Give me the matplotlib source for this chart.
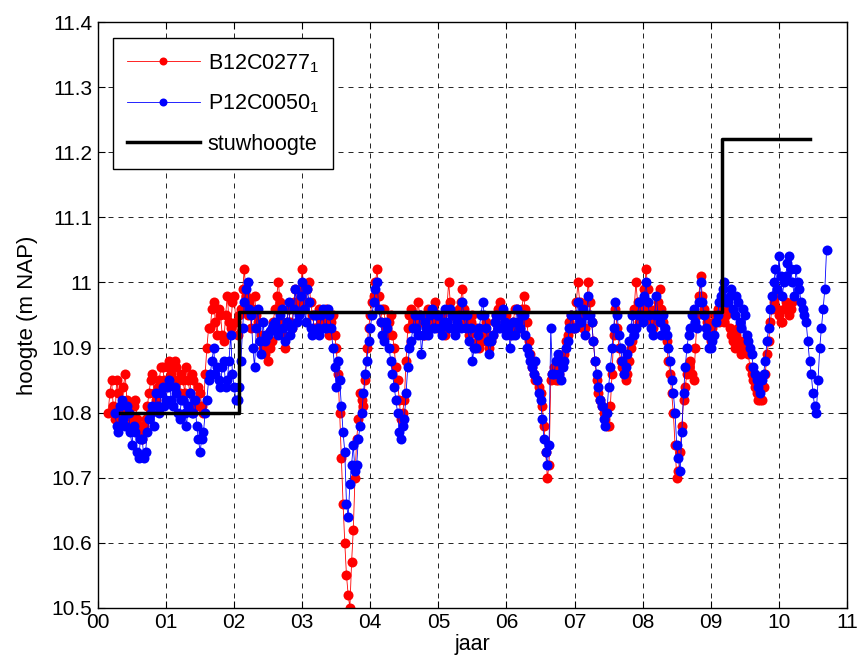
import matplotlib
matplotlib.use("Agg")
import matplotlib.pyplot as plt
import numpy as np

plt.rcParams['font.family'] = ['Liberation Sans', 'DejaVu Sans']
plt.rcParams['mathtext.fontset'] = 'custom'
plt.rcParams['mathtext.rm'] = 'Liberation Sans'
plt.rcParams['mathtext.it'] = 'Liberation Sans'

# peilbuis B12C0277 (rood): metingen op jaar 0.15 + 0.05*i (a) en 0.175 + 0.05*i (b)
red_a_start = 0.15
red_b_start = 0.175
red_a = [10.80, 10.85, 10.79, 10.83, 10.80, 10.86, 10.81, 10.79, 10.82, 10.78,
         10.76, 10.79, 10.83, 10.86, 10.82, 10.85, 10.87, 10.84, 10.88, 10.85,
         10.87, 10.83, 10.85, 10.87, 10.83, 10.85, 10.81, 10.83, 10.80, 10.90,
         10.93, 10.97, 10.92, 10.95, 10.91, 10.98, 10.93, 10.98, 10.92, 10.96,
         11.02, 10.95, 10.93, 10.98, 10.94, 10.92, 10.89, 10.88, 10.91, 10.96,
         11.00, 10.94, 10.90, 10.96, 10.93, 10.99, 10.96, 11.02, 10.97, 11.00,
         10.95, 10.93, 10.96, 10.94, 10.96, 10.92, 10.95, 10.90, 10.80, 10.66,
         10.55, 10.50, 10.62, 10.76, 10.83, 10.81, 10.90, 10.95, 10.98, 11.02,
         10.94, 10.96, 10.92, 10.95, 10.90, 10.85, 10.79, 10.82, 10.93, 10.96,
         10.93, 10.97, 10.94, 10.92, 10.96, 10.94, 10.97, 10.93, 10.95, 10.92,
         11.00, 10.95, 10.93, 10.96, 10.99, 10.94, 10.92, 10.95, 10.93, 10.90,
         10.91, 10.94, 10.90, 10.92, 10.95, 10.97, 10.93, 10.95, 10.92, 10.94,
         10.96, 10.93, 10.98, 10.94, 10.89, 10.86, 10.85, 10.83, 10.78, 10.70,
         10.85, 10.87, 10.85, 10.87, 10.89, 10.92, 10.95, 10.93, 11.00, 10.95,
         10.93, 11.00, 10.94, 10.88, 10.83, 10.81, 10.79, 10.78, 10.86, 10.96,
         10.90, 10.87, 10.85, 10.88, 10.91, 11.00, 10.94, 10.97, 11.02, 10.96,
         10.93, 10.96, 10.99, 10.94, 10.91, 10.86, 10.80, 10.70, 10.74, 10.82,
         10.86, 10.88, 10.85, 10.95, 11.01, 10.96, 10.94, 10.91, 10.94, 10.96,
         10.97, 10.94, 10.96, 10.92, 10.90, 10.93, 10.89, 10.91, 10.89, 10.86,
         10.84, 10.82, 10.82, 10.86, 10.91, 10.96, 10.98, 10.95, 10.94, 10.97,
         10.95, 10.97]
red_b = [10.83, 10.81, 10.85, 10.79, 10.84, 10.82, 10.78, 10.81, 10.79, 10.77,
         10.78, 10.81, 10.85, 10.83, 10.84, 10.87, 10.85, 10.87, 10.86, 10.88,
         10.85, 10.86, 10.83, 10.85, 10.86, 10.82, 10.84, 10.81, 10.86, 10.93,
         10.96, 10.94, 10.96, 10.92, 10.95, 10.94, 10.97, 10.94, 10.95, 10.99,
         10.98, 10.97, 10.96, 10.95, 10.91, 10.90, 10.92, 10.90, 10.94, 10.98,
         10.97, 10.92, 10.94, 10.94, 10.97, 10.97, 10.99, 10.99, 10.99, 10.97,
         10.93, 10.95, 10.94, 10.95, 10.94, 10.94, 10.92, 10.86, 10.73, 10.60,
         10.52, 10.57, 10.70, 10.79, 10.82, 10.85, 10.93, 10.97, 11.00, 10.98,
         10.96, 10.93, 10.94, 10.92, 10.87, 10.82, 10.80, 10.88, 10.95, 10.94,
         10.95, 10.95, 10.92, 10.95, 10.94, 10.96, 10.95, 10.94, 10.93, 10.96,
         10.97, 10.93, 10.95, 10.97, 10.96, 10.93, 10.94, 10.93, 10.91, 10.92,
         10.93, 10.92, 10.91, 10.94, 10.96, 10.95, 10.94, 10.93, 10.93, 10.96,
         10.94, 10.96, 10.96, 10.91, 10.87, 10.85, 10.84, 10.81, 10.74, 10.72,
         10.86, 10.85, 10.86, 10.88, 10.91, 10.94, 10.93, 10.97, 10.97, 10.93,
         10.97, 10.97, 10.91, 10.85, 10.82, 10.80, 10.78, 10.81, 10.92, 10.93,
         10.88, 10.86, 10.86, 10.90, 10.96, 10.97, 10.96, 10.99, 10.99, 10.94,
         10.95, 10.97, 10.96, 10.92, 10.88, 10.83, 10.75, 10.71, 10.78, 10.84,
         10.87, 10.86, 10.90, 10.98, 10.98, 10.95, 10.92, 10.93, 10.95, 10.94,
         10.95, 10.95, 10.93, 10.91, 10.92, 10.91, 10.90, 10.90, 10.87, 10.85,
         10.83, 10.82, 10.84, 10.89, 10.94, 10.97, 10.96, 10.94, 10.96, 10.96,
         10.96]

# peilbuis P12C0050 (blauw): metingen op jaar 0.25 + 0.05*i (a) en 0.275 + 0.05*i (b)
blue_a_start = 0.25
blue_b_start = 0.275
blue_a = [10.80, 10.77, 10.82, 10.78, 10.80, 10.75, 10.77, 10.73, 10.76, 10.74,
          10.79, 10.81, 10.83, 10.80, 10.84, 10.82, 10.85, 10.81, 10.83, 10.79,
          10.82, 10.78, 10.83, 10.80, 10.78, 10.74, 10.77, 10.82, 10.86, 10.90,
          10.87, 10.84, 10.88, 10.85, 10.92, 10.84, 10.82, 10.88, 10.97, 11.00,
          10.95, 10.87, 10.96, 10.89, 10.91, 10.92, 10.93, 10.94, 10.92, 10.96,
          10.91, 10.97, 10.93, 10.99, 10.95, 11.00, 10.94, 10.97, 10.92, 10.95,
          10.92, 10.96, 10.93, 10.95, 10.90, 10.84, 10.85, 10.77, 10.66, 10.69,
          10.75, 10.72, 10.78, 10.83, 10.88, 10.93, 10.97, 11.00, 10.94, 10.91,
          10.93, 10.88, 10.84, 10.80, 10.76, 10.79, 10.87, 10.91, 10.95, 10.92,
          10.89, 10.94, 10.92, 10.96, 10.93, 10.95, 10.92, 10.96, 10.93, 10.95,
          10.92, 10.95, 10.97, 10.93, 10.91, 10.88, 10.90, 10.93, 10.97, 10.93,
          10.89, 10.92, 10.95, 10.93, 10.96, 10.92, 10.90, 10.94, 10.96, 10.93,
          10.95, 10.90, 10.88, 10.86, 10.85, 10.82, 10.76, 10.72, 10.93, 10.86,
          10.89, 10.85, 10.88, 10.91, 10.95, 10.93, 10.97, 10.94, 10.92, 10.98,
          10.94, 10.88, 10.84, 10.81, 10.78, 10.84, 10.90, 10.97, 10.92, 10.88,
          10.87, 10.91, 10.95, 10.93, 10.97, 10.94, 11.00, 10.95, 10.92, 10.98,
          10.94, 10.95, 10.92, 10.88, 10.83, 10.75, 10.71, 10.83, 10.90, 10.93,
          10.96, 10.93, 11.00, 10.95, 10.92, 10.90, 10.92, 10.95, 10.98, 11.00,
          10.97, 10.99, 10.95, 10.97, 10.93, 10.95, 10.91, 10.89, 10.86, 10.84,
          10.85, 10.88, 10.93, 10.98, 11.02, 11.04, 10.98, 11.01, 11.04, 11.00,
          11.02, 10.99, 10.96, 10.94, 10.88, 10.83, 10.80, 10.90, 10.96, 11.05]
blue_b = [10.78, 10.81, 10.79, 10.81, 10.77, 10.78, 10.74, 10.76, 10.73, 10.77,
          10.80, 10.78, 10.81, 10.83, 10.81, 10.84, 10.82, 10.84, 10.80, 10.82,
          10.80, 10.81, 10.80, 10.82, 10.76, 10.76, 10.80, 10.85, 10.88, 10.86,
          10.85, 10.87, 10.84, 10.88, 10.86, 10.82, 10.84, 10.93, 10.99, 10.96,
          10.90, 10.93, 10.91, 10.94, 10.92, 10.925, 10.935, 10.93, 10.95, 10.93,
          10.94, 10.92, 10.96, 10.94, 10.98, 10.96, 10.99, 10.93, 10.95, 10.93,
          10.95, 10.93, 10.96, 10.93, 10.87, 10.88, 10.81, 10.74, 10.64, 10.72,
          10.71, 10.76, 10.80, 10.86, 10.91, 10.95, 10.99, 10.96, 10.92, 10.94,
          10.90, 10.86, 10.82, 10.77, 10.78, 10.83, 10.90, 10.93, 10.93, 10.95,
          10.92, 10.93, 10.95, 10.93, 10.95, 10.93, 10.94, 10.94, 10.96, 10.93,
          10.94, 10.93, 10.95, 10.95, 10.93, 10.90, 10.92, 10.95, 10.95, 10.91,
          10.91, 10.94, 10.93, 10.95, 10.94, 10.93, 10.92, 10.92, 10.94, 10.95,
          10.92, 10.89, 10.87, 10.88, 10.83, 10.79, 10.74, 10.75, 10.86, 10.88,
          10.86, 10.87, 10.90, 10.93, 10.93, 10.95, 10.94, 10.96, 10.95, 10.95,
          10.91, 10.86, 10.82, 10.79, 10.80, 10.87, 10.93, 10.95, 10.90, 10.86,
          10.89, 10.93, 10.92, 10.95, 10.95, 10.98, 10.97, 10.93, 10.95, 10.95,
          10.92, 10.93, 10.90, 10.85, 10.80, 10.73, 10.77, 10.87, 10.92, 10.95,
          10.94, 10.97, 10.97, 10.93, 10.90, 10.91, 10.94, 10.97, 10.99, 10.97,
          10.98, 10.96, 10.98, 10.94, 10.96, 10.92, 10.90, 10.87, 10.85, 10.83,
          10.86, 10.91, 10.96, 11.00, 10.99, 11.01, 11.00, 11.03, 11.02, 10.98,
          11.00, 10.97, 10.95, 10.91, 10.86, 10.81, 10.85, 10.93, 10.99]

# stuwpeil
stuw_t = [0.33, 2.07, 9.17, 10.46]
stuw_h = [10.80, 10.955, 11.22, 11.22]

xlabels = ['00', '01', '02', '03', '04', '05', '06', '07', '08', '09', '10', '11']
ylabels = ['10.5', '10.6', '10.7', '10.8', '10.9', '11', '11.1', '11.2', '11.3', '11.4']


def merge(start_a, vals_a, start_b, vals_b):
    t = np.concatenate([start_a + 0.05 * np.arange(len(vals_a)),
                        start_b + 0.05 * np.arange(len(vals_b))])
    h = np.concatenate([vals_a, vals_b])
    order = np.argsort(t)
    return t[order], h[order]


red_t, red_h = merge(red_a_start, red_a, red_b_start, red_b)
blue_t, blue_h = merge(blue_a_start, blue_a, blue_b_start, blue_b)

fig = plt.figure(figsize=(8.59, 6.71), dpi=100)
ax = fig.add_axes([0.114, 0.094, 0.872, 0.873])

ax.plot(red_t, red_h, '-o', color='#ff0000', lw=0.6, ms=7.2, mew=0,
        label='B12C0277$_1$')
ax.plot(blue_t, blue_h, '-o', color='#0000ff', lw=0.6, ms=7.2, mew=0,
        label='P12C0050$_1$')
ax.plot(stuw_t, stuw_h, color='black', lw=2.5, drawstyle='steps-post',
        label='stuwhoogte')

ax.set_xlim(0, 11)
ax.set_ylim(10.5, 11.4)
ax.set_xticks(np.arange(0, 12))
ax.set_xticklabels(xlabels)
ax.set_yticks(np.linspace(10.5, 11.4, 10))
ax.set_yticklabels(ylabels)
ax.tick_params(direction='in', top=True, right=True, labelsize=15, length=5, pad=4)
ax.grid(True, color='black', linestyle=(0, (6, 6)), lw=0.6)
for s in ax.spines.values():
    s.set_linewidth(1.0)

ax.set_xlabel('jaar', fontsize=15.5, labelpad=1)
ax.set_ylabel('hoogte (m NAP)', fontsize=16, labelpad=10)

leg = ax.legend(loc='upper left', fontsize=15.5, fancybox=False, framealpha=1,
                edgecolor='black', handlelength=3.4, handletextpad=0.35,
                borderpad=0.65, labelspacing=0.85, borderaxespad=0,
                bbox_to_anchor=(0.02, 0.973), markerscale=0.8)
leg.get_frame().set_linewidth(1.0)

fig.savefig('out.png', dpi=100)
